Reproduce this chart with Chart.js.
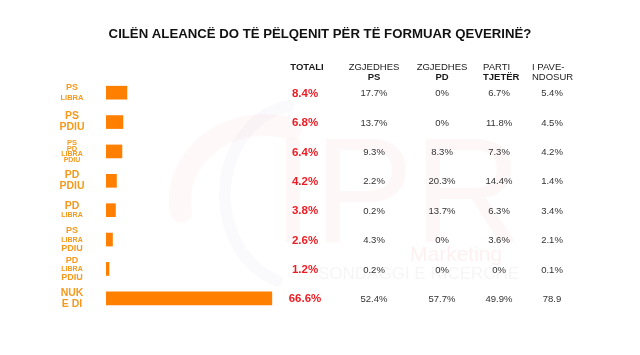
<!DOCTYPE html>
<html>
<head>
<meta charset="utf-8">
<script src="https://cdn.jsdelivr.net/npm/chart.js@4.4.1/dist/chart.umd.min.js"></script>
<style>
  html,body{margin:0;padding:0;background:#fff;}
  #wrap{width:640px;height:355px;position:relative;}
</style>
</head>
<body>
<div id="wrap"><canvas id="c" width="640" height="355"></canvas></div>
<script>
// ---- DATA ----
const title = 'CILËN ALEANCË DO TË PËLQENIT PËR TË FORMUAR QEVERINË?';
const categories = ['PS\nLIBRA', 'PS\nPDIU', 'PS\nPD\nLIBRA\nPDIU', 'PD\nPDIU', 'PD\nLIBRA', 'PS\nLIBRA\nPDIU', 'PD\nLIBRA\nPDIU', 'NUK\nE DI'];
const totali = [8.4, 6.8, 6.4, 4.2, 3.8, 2.6, 1.2, 66.6];
const zgjedhesPS = ['17.7%', '13.7%', '9.3%', '2.2%', '0.2%', '4.3%', '0.2%', '52.4%'];
const zgjedhesPD = ['0%', '0%', '8.3%', '20.3%', '13.7%', '0%', '0%', '57.7%'];
const partiTjeter = ['6.7%', '11.8%', '7.3%', '14.4%', '6.3%', '3.6%', '0%', '49.9%'];
const iPavendosur = ['5.4%', '4.5%', '4.2%', '1.4%', '3.4%', '2.1%', '0.1%', '78.9'];
const columnHeaders = [['TOTALI'], ['ZGJEDHES', 'PS'], ['ZGJEDHES', 'PD'], ['PARTI', 'TJETËR'], ['I PAVE-', 'NDOSUR']];

// ---- STYLE (not data) ----
const FONT = '"Liberation Sans", Arial, sans-serif';
const labelLineSizes = [[9, 7.5], [10.5, 10.5], [7.5, 7.5, 7, 7], [10.5, 10.5], [10.5, 7], [9, 7, 9], [9, 7, 9], [10.5, 10.5]];
const labelLineGap = [[10], [11], [6, 6, 6], [11], [9], [9, 8.5], [9, 8.5], [11]];

const tablePlugin = {
  id: 'tablePlugin',
  beforeDatasetsDraw(chart) {
    const ctx = chart.ctx;
    ctx.save();
    // faint watermark
    ctx.lineCap = 'round';
    ctx.strokeStyle = 'rgba(235,60,70,0.035)';
    ctx.lineWidth = 22;
    ctx.beginPath();
    ctx.ellipse(265, 200, 85, 75, 0, Math.PI * 0.95, Math.PI * 1.6);
    ctx.stroke();
    ctx.strokeStyle = 'rgba(120,130,190,0.04)';
    ctx.lineWidth = 12;
    ctx.beginPath();
    ctx.ellipse(300, 195, 75, 90, 0, Math.PI * 0.6, Math.PI * 1.45);
    ctx.stroke();
    ctx.fillStyle = 'rgba(235,40,50,0.035)';
    ctx.font = '150px ' + FONT;
    ctx.textAlign = 'left';
    ctx.textBaseline = 'alphabetic';
    ctx.fillText('IPR', 272, 242);
    ctx.fillStyle = 'rgba(235,40,50,0.07)';
    ctx.font = '21px ' + FONT;
    ctx.fillText('Marketing', 410, 261);
    ctx.fillStyle = 'rgba(140,140,140,0.09)';
    ctx.font = '17px ' + FONT;
    ctx.fillText('SONDAGGI E RICERCHE', 318, 279);
    ctx.restore();
  },
  afterDraw(chart) {
    const ctx = chart.ctx;
    const yScale = chart.scales.y;
    ctx.save();
    // title
    ctx.fillStyle = '#111';
    ctx.font = 'bold 13.2px ' + FONT;
    ctx.textAlign = 'center';
    ctx.textBaseline = 'middle';
    ctx.fillText(title, 320, 34);

    // category labels
    ctx.fillStyle = '#f39a1f';
    categories.forEach((cat, i) => {
      const lines = cat.split('\n');
      const yc = yScale.getPixelForValue(i);
      const gaps = labelLineGap[i];
      let total = gaps.reduce((a, b) => a + b, 0);
      let y = yc - total / 2;
      lines.forEach((ln, j) => {
        ctx.font = 'bold ' + labelLineSizes[i][j] + 'px ' + FONT;
        ctx.fillText(ln, 72, y);
        if (j < gaps.length) y += gaps[j];
      });
    });

    // column headers
    const colX = [307, 374, 442, 483, 532];
    const colAlign = ['center', 'center', 'center', 'left', 'left'];
    ctx.fillStyle = '#1a1a1a';
    columnHeaders.forEach((h, k) => {
      ctx.textAlign = colAlign[k];
      h.forEach((ln, j) => {
        const bold = (k === 0) || (j === 1 && k < 4);
        ctx.font = (bold ? 'bold ' : '') + '9.5px ' + FONT;
        ctx.fillText(ln, colX[k], 67 + j * 10);
      });
    });

    // table values
    const valX = [305, 374, 442, 499, 552];
    const cols = [totali.map(v => v.toFixed(1) + '%'), zgjedhesPS, zgjedhesPD, partiTjeter, iPavendosur];
    ctx.textAlign = 'center';
    cols.forEach((col, k) => {
      col.forEach((v, i) => {
        const y = yScale.getPixelForValue(i) + 1;
        if (k === 0) {
          ctx.fillStyle = '#ec1c24';
          ctx.font = 'bold 11.5px ' + FONT;
        } else {
          ctx.fillStyle = '#333';
          ctx.font = '9.5px ' + FONT;
        }
        ctx.fillText(v, valX[k], y);
      });
    });
    ctx.restore();
  }
};

new Chart(document.getElementById('c'), {
  type: 'bar',
  data: {
    labels: categories,
    datasets: [{
      data: totali,
      backgroundColor: '#ff7f00',
      borderWidth: 0,
      barThickness: 13
    }]
  },
  options: {
    indexAxis: 'y',
    responsive: false,
    animation: false,
    events: [],
    layout: { padding: { left: 106, right: 285, top: 78, bottom: 42 } },
    plugins: { legend: { display: false }, tooltip: { enabled: false }, title: { display: false } },
    scales: {
      x: { display: false, min: 0, max: 100, grid: { display: false } },
      y: { display: false, grid: { display: false } }
    }
  },
  plugins: [tablePlugin]
});
</script>
</body>
</html>
